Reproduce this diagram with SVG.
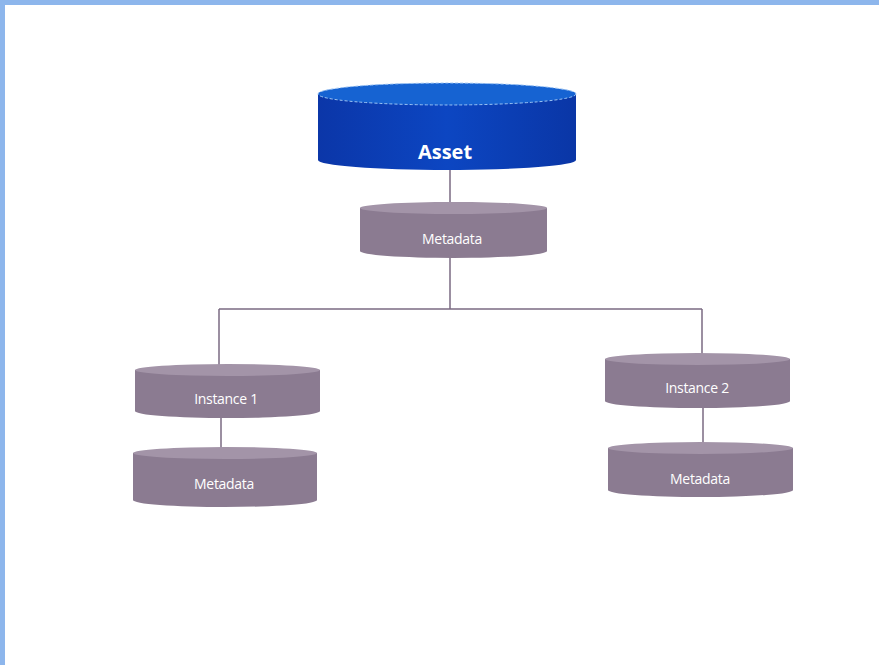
<svg xmlns="http://www.w3.org/2000/svg" width="879" height="665" viewBox="0 0 879 665">
<defs>
<style>
.body{fill:#8b7b91;}
.top{fill:#a394a8;}
.lbl{font-family:"Open Sans","DejaVu Sans",sans-serif;font-size:14px;fill:#ffffff;text-anchor:middle;letter-spacing:-0.3px;}
.conn{stroke:#7a6a82;stroke-width:1.5;fill:none;}
</style>
<linearGradient id="blueBody" x1="0" y1="0" x2="1" y2="0">
<stop offset="0" stop-color="#0b36a8"/>
<stop offset="0.5" stop-color="#0c46c2"/>
<stop offset="1" stop-color="#0a36a6"/>
</linearGradient>
</defs>
<rect x="0" y="0" width="879" height="665" fill="#ffffff"/>
<rect x="0" y="0" width="879" height="5" fill="#8db6ec"/>
<rect x="0" y="0" width="5" height="665" fill="#8db6ec"/>
<g id="connectors">
<line class="conn" x1="450" y1="168" x2="450" y2="206"/>
<line class="conn" x1="450" y1="256" x2="450" y2="309"/>
<line class="conn" x1="219" y1="309" x2="702" y2="309"/>
<line class="conn" x1="219" y1="309" x2="219" y2="366"/>
<line class="conn" x1="702" y1="309" x2="702" y2="354"/>
<line class="conn" x1="221" y1="416" x2="221" y2="450"/>
<line class="conn" x1="703" y1="406" x2="703" y2="445"/>
</g>
<g id="asset">
<path d="M318,94 L318,160 A129,10 0 0 0 576,160 L576,94 Z" fill="url(#blueBody)"/>
<ellipse cx="447" cy="94" rx="129" ry="11" fill="#1663d2" stroke="#9cc4f4" stroke-width="1" stroke-dasharray="3,2"/>
<text x="445" y="159" font-family="'Open Sans','DejaVu Sans',sans-serif" font-size="20" font-weight="bold" fill="#ffffff" text-anchor="middle">Asset</text>
</g>
<g id="metadata-top">
<path d="M360,208 L360,251 A93.5,7 0 0 0 547,251 L547,208 Z" class="body"/>
<ellipse cx="453.5" cy="208" rx="93.5" ry="6" class="top"/>
<text class="lbl" x="452" y="244">Metadata</text>
</g>
<g id="instance1">
<path d="M135,370 L135,411 A92.5,7 0 0 0 320,411 L320,370 Z" class="body"/>
<ellipse cx="227.5" cy="370" rx="92.5" ry="6" class="top"/>
<text class="lbl" x="226" y="404">Instance 1</text>
</g>
<g id="metadata1">
<path d="M133,453 L133,500 A92,7 0 0 0 317,500 L317,453 Z" class="body"/>
<ellipse cx="225" cy="453" rx="92" ry="6" class="top"/>
<text class="lbl" x="224" y="489">Metadata</text>
</g>
<g id="instance2">
<path d="M605,359 L605,401 A92.5,7 0 0 0 790,401 L790,359 Z" class="body"/>
<ellipse cx="697.5" cy="359" rx="92.5" ry="6" class="top"/>
<text class="lbl" x="697" y="393">Instance 2</text>
</g>
<g id="metadata2">
<path d="M608,448 L608,490 A92.5,7 0 0 0 793,490 L793,448 Z" class="body"/>
<ellipse cx="700.5" cy="448" rx="92.5" ry="6" class="top"/>
<text class="lbl" x="700" y="484">Metadata</text>
</g>
</svg>
